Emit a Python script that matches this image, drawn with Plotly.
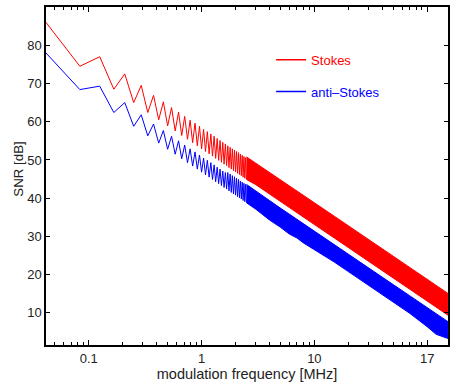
import plotly.graph_objects as go

# ---- data ----
# zigzag vertices (frequency grid step 1/24 MHz on the plotted axis)
freq = [round(k / 24, 5) for k in range(1, 61)]
stokes_zig = [86.0, 74.5, 77.0, 68.5, 72.5, 65.0, 69.5, 62.4, 66.9, 60.5,
              65.2, 58.9, 63.7, 57.6, 62.5, 56.4, 61.4, 55.4, 60.4, 54.5,
              59.6, 53.7, 58.8, 52.9, 58.0, 52.2, 57.4, 51.6, 56.8, 51.0,
              56.2, 50.4, 55.6, 49.9, 55.1, 49.4, 54.6, 48.9, 54.2, 48.5,
              53.7, 48.0, 53.3, 47.6, 52.9, 47.2, 52.6, 46.9, 52.2, 46.5,
              51.9, 46.2, 51.5, 45.9, 51.2, 45.5, 50.9, 45.2, 50.6, 44.9]
anti_zig = [78.0, 68.4, 69.3, 62.4, 65.0, 58.8, 61.8, 56.3, 59.4, 54.4,
            57.7, 52.8, 56.2, 51.5, 55.0, 50.3, 53.9, 49.3, 52.9, 48.4,
            52.1, 47.6, 51.3, 46.8, 50.5, 46.1, 49.9, 45.5, 49.3, 44.9,
            48.7, 44.3, 48.1, 43.8, 47.6, 43.3, 47.1, 42.8, 46.7, 42.4,
            46.7, 41.9, 46.3, 41.5, 45.9, 41.1, 45.6, 40.8, 45.2, 40.4,
            44.9, 40.1, 44.5, 39.8, 44.2, 39.4, 43.9, 39.1, 43.6, 38.8]

# dense part: envelopes of the unresolved oscillation
band_f = [2.5, 3, 4, 5, 6, 7, 8, 10, 15, 20, 30, 50, 70, 100, 120, 153]
stokes_hi = [50.8, 49.2, 46.7, 44.7, 43.1, 41.8, 40.6, 38.8, 35.3,
             32.8, 29.3, 24.8, 21.9, 18.8, 17.2, 15.1]
stokes_lo = [44.9, 43.6, 41.1, 39.1, 37.5, 36.2, 35.0, 33.1, 29.6,
             27.1, 23.6, 19.1, 16.2, 13.1, 11.5, 9.4]
anti_hi = [43.6, 41.9, 39.4, 37.4, 35.8, 34.5, 33.3, 31.4, 27.9,
           25.4, 21.9, 17.4, 14.5, 11.4, 9.8, 7.7]
anti_lo = [38.8, 37.2, 34.3, 32.4, 30.6, 29.6, 28.3, 26.6, 23.3,
           20.8, 17.2, 12.8, 9.9, 6.4, 4.4, 3.3]

x_tickvals = [0.1, 1, 10, 100]
x_ticktext = ["0.1", "1", "10", "17"]
y_tickvals = [10, 20, 30, 40, 50, 60, 70, 80]

RED = "#ff0000"
BLUE = "#0000ff"
FONT = "Liberation Sans, Arial, sans-serif"

fig = go.Figure()

for name, col, zig, hi, lo in [("Stokes", RED, stokes_zig, stokes_hi, stokes_lo),
                               ("anti\u2013Stokes", BLUE, anti_zig, anti_hi, anti_lo)]:
    fig.add_trace(go.Scatter(x=freq, y=zig, mode="lines",
                             line=dict(color=col, width=1), showlegend=False,
                             hoverinfo="skip"))
    fig.add_trace(go.Scatter(x=band_f, y=lo, mode="lines",
                             line=dict(color=col, width=1), showlegend=False,
                             hoverinfo="skip"))
    fig.add_trace(go.Scatter(x=band_f, y=hi, mode="lines", fill="tonexty",
                             fillcolor=col, line=dict(color=col, width=1),
                             showlegend=False, hoverinfo="skip"))
    fig.add_trace(go.Scatter(x=[None], y=[None], mode="lines",
                             line=dict(color=col, width=1.5),
                             name=f"<span style='color:{col}'>{name}</span>",
                             legendgroup=name))

minor_vals = []
for d in [0.01, 0.1, 1, 10, 100]:
    for m in range(2, 10):
        minor_vals.append(round(m * d, 4))

fig.update_layout(
    width=450, height=382,
    margin=dict(l=46, r=0, t=7, b=37),
    paper_bgcolor="white", plot_bgcolor="white",
    font=dict(family=FONT, size=13, color="#222222"),
    showlegend=True,
    legend=dict(x=0.56, y=0.8885, xanchor="left", yanchor="top",
                bgcolor="rgba(0,0,0,0)", tracegroupgap=12,
                font=dict(size=13)),
    xaxis=dict(type="log", range=[-1.3795, 2.185],
               tickmode="array", tickvals=x_tickvals, ticktext=x_ticktext,
               ticks="inside", ticklen=5, tickcolor="black",
               showline=True, linecolor="black", linewidth=2,
               mirror="ticks", showgrid=False, zeroline=False,
               minor=dict(tickmode="array", tickvals=minor_vals,
                          ticks="inside", ticklen=3, tickcolor="black",
                          showgrid=False),
               title=dict(text="modulation frequency [MHz]", standoff=1,
                          font=dict(size=14.5))),
    yaxis=dict(range=[1.6, 90], tickmode="array", tickvals=y_tickvals,
               ticks="inside", ticklen=4, tickcolor="black",
               showline=True, linecolor="black", linewidth=1.5,
               mirror="ticks", showgrid=False, zeroline=False),
    annotations=[dict(text="SNR [dB]", xref="paper", yref="paper",
                      x=-0.0693, y=0.519, xanchor="center", yanchor="middle",
                      textangle=-90, showarrow=False,
                      font=dict(size=13.3, family=FONT, color="#222222"))],
)

fig.write_html("out.html")
